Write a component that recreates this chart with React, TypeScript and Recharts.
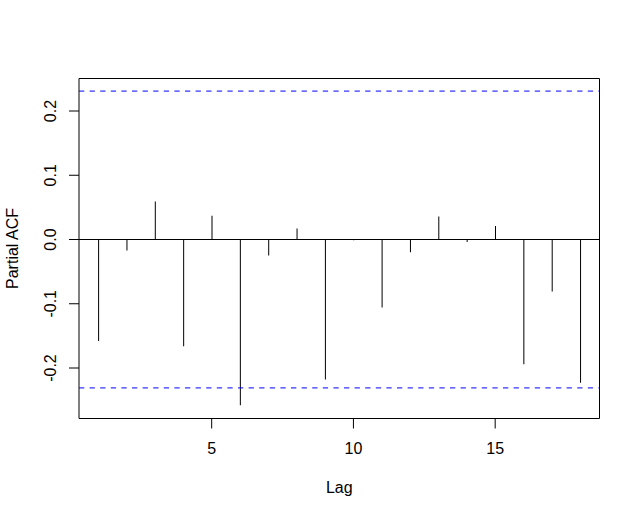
import { Bar, ComposedChart, ReferenceArea, ReferenceLine, XAxis, YAxis } from "recharts";

const lags = [1, 2, 3, 4, 5, 6, 7, 8, 9, 10, 11, 12, 13, 14, 15, 16, 17, 18];
const pacfValues = [
  -0.158, -0.017, 0.059, -0.166, 0.037, -0.258, -0.025, 0.017, -0.218,
  -0.001, -0.106, -0.02, 0.036, -0.004, 0.021, -0.194, -0.081, -0.223,
];
const ciBound = 0.231;
const xTicks = [5, 10, 15];
const yTicks = [-0.2, -0.1, 0.0, 0.1, 0.2];
const xDomain: [number, number] = [0.32, 18.68];
const yDomain: [number, number] = [-0.2786, 0.2506];

const data = lags.map((lag, i) => ({ lag, pacf: pacfValues[i] }));

const FONT = "'Liberation Sans', Arial, Helvetica, sans-serif";

function XTick(props: any) {
  const { x, y, payload } = props;
  return (
    <text x={x} y={y} textAnchor="middle" fontFamily={FONT} fontSize={16} fill="#000">
      {payload.value}
    </text>
  );
}

function YTick(props: any) {
  const { x, y, payload } = props;
  return (
    <text x={x} y={y} transform={`rotate(-90, ${x}, ${y})`} textAnchor="middle" fontFamily={FONT} fontSize={16} fill="#000">
      {Number(payload.value).toFixed(1)}
    </text>
  );
}

export default function App() {
  return (
    <div style={{ position: "absolute", left: 0, top: 0, width: 640, height: 517, background: "#fff" }}>
      <ComposedChart width={640} height={517} data={data} margin={{ top: 78.5, right: 40.5, bottom: 38.5, left: 0 }}>
        <XAxis
          dataKey="lag"
          type="number"
          domain={xDomain}
          allowDataOverflow
          ticks={xTicks}
          height={60}
          axisLine={false}
          tickLine={{ stroke: "#000" }}
          tickSize={10}
          tickMargin={25.5}
          tick={<XTick />}
          label={(p: any) => (
            <text x={p.viewBox.x + p.viewBox.width / 2} y={493.3} textAnchor="middle" fontFamily={FONT} fontSize={16} fill="#000">
              Lag
            </text>
          )}
        />
        <YAxis
          type="number"
          domain={yDomain}
          allowDataOverflow
          ticks={yTicks}
          width={79}
          axisLine={false}
          tickLine={{ stroke: "#000" }}
          tickSize={10}
          tickMargin={13}
          tick={<YTick />}
          label={(p: any) => {
            const cy = p.viewBox.y + p.viewBox.height / 2;
            return (
              <text x={18} y={cy} transform={`rotate(-90, 18, ${cy})`} textAnchor="middle" fontFamily={FONT} fontSize={16} fill="#000">
                Partial ACF
              </text>
            );
          }}
        />
        <ReferenceArea x1={xDomain[0]} x2={xDomain[1]} y1={yDomain[0]} y2={yDomain[1]} fill="none" fillOpacity={0} stroke="#000" strokeWidth={1} ifOverflow="visible" />
        <ReferenceLine y={0} stroke="#000" strokeWidth={1} />
        <ReferenceLine y={ciBound} stroke="#0000ff" strokeDasharray="5.3 5.3" strokeWidth={1} />
        <ReferenceLine y={-ciBound} stroke="#0000ff" strokeDasharray="5.3 5.3" strokeWidth={1} />
        <Bar dataKey="pacf" barSize={1} fill="#000" isAnimationActive={false} />
      </ComposedChart>
    </div>
  );
}
